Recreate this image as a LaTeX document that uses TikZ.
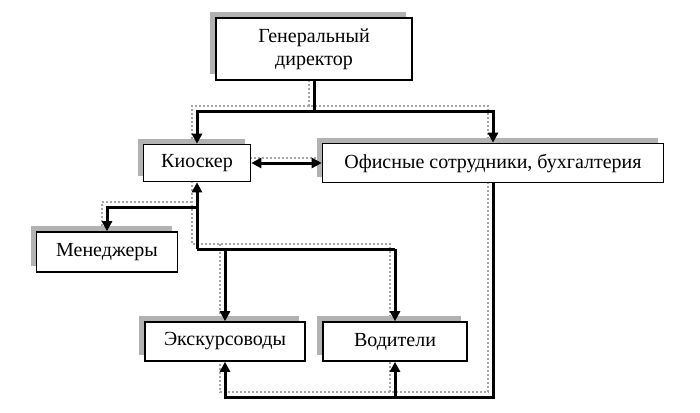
\documentclass[tikz,border=0pt]{standalone}
\usepackage{fontspec}
\setmainfont{Liberation Serif}
\usetikzlibrary{arrows.meta,shadows,backgrounds}
\begin{document}
\begin{tikzpicture}[x=1pt,y=-1pt,
  box/.style={draw=black,line width=1.6pt,fill=white,inner sep=0pt,
    font=\fontsize{20}{23}\selectfont,
    drop shadow={shadow xshift=-6pt,shadow yshift=6pt,fill=gray!60,opacity=1}},
  conn/.style={draw=black,line width=3pt},
  tip/.style={-{Triangle[length=10pt,width=10pt]}},
  tips/.style={{Triangle[length=10pt,width=10pt]}-{Triangle[length=10pt,width=10pt]}},
  lshadow/.style={draw=gray!70,line width=2pt,dotted,
    transform canvas={xshift=-5pt,yshift=5pt}}]
\useasboundingbox (0,0) rectangle (700,412);
\node[box,minimum width=196pt,minimum height=62pt,align=center] (gd) at (314,49) {Генеральный\\директор};
\node[box,minimum width=107pt,minimum height=37pt] (kiosk) at (197,163) {Киоскер};
\node[box,minimum width=341pt,minimum height=39pt] (office) at (493,163) {Офисные сотрудники, бухгалтерия};
\node[box,minimum width=141pt,minimum height=40pt] (mgr) at (107,252) {Менеджеры};
\node[box,minimum width=160pt,minimum height=39pt] (exc) at (225,341.5) {Экскурсоводы};
\node[box,minimum width=144pt,minimum height=39pt] (drv) at (395,341.5) {Водители};
\coordinate (jt) at (gd.south |- 0,111);
\coordinate (jm) at (197,207);
\coordinate (jb) at (197,249);
\coordinate (bot) at (493,397);
\begin{pgfonlayer}{background}
\draw[lshadow] (gd.south) -- (jt);
\draw[lshadow] (kiosk.north) |- (jt) -| (office.north);
\draw[lshadow] (kiosk.east) -- (office.west);
\draw[lshadow] (kiosk.south) -- (jb) -- (jb -| drv.north) -- (drv.north);
\draw[lshadow] (jm) -| (mgr.north);
\draw[lshadow] (exc.north |- jb) -- (exc.north);
\draw[lshadow] (office.south) |- (exc.south |- bot) -- (exc.south);
\draw[lshadow] (drv.south |- bot) -- (drv.south);
\end{pgfonlayer}
\draw[conn] (gd.south) -- (jt);
\draw[conn,tip] (jt) -| (kiosk.north);
\draw[conn,tip] (jt) -| (office.north);
\draw[conn,tips] (kiosk.east) -- (office.west);
\draw[conn,tip] (jb) -- (kiosk.south);
\draw[conn,tip] (jm) -| (mgr.north);
\draw[conn] (jb) -- (jb -| drv.north);
\draw[conn,tip] (exc.north |- jb) -- (exc.north);
\draw[conn,tip] (drv.north |- jb) -- (drv.north);
\draw[conn,tip] (office.south) |- (exc.south |- bot) -- (exc.south);
\draw[conn,tip] (drv.south |- bot) -- (drv.south);
\end{tikzpicture}
\end{document}
